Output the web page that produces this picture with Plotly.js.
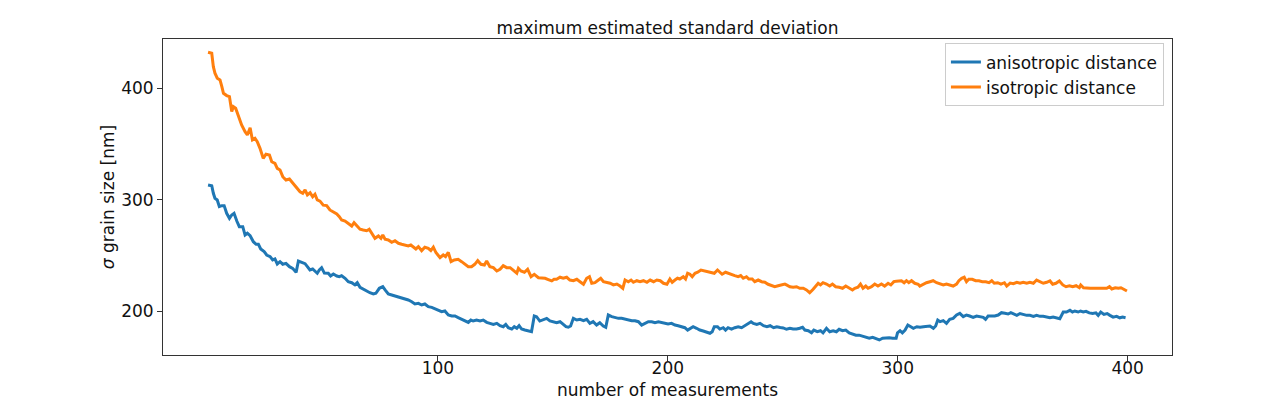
<!DOCTYPE html>
<html>
<head>
<meta charset="utf-8">
<script src="https://cdn.plot.ly/plotly-3.0.1.min.js"></script>
<style>
  html, body { margin: 0; padding: 0; background: #fff; }
  #graph { width: 1271px; height: 400px; }
</style>
</head>
<body>
<div id="graph"></div>
<script>
const anisoX = [0, 1.6, 2.3, 3, 4, 4.9, 6, 7, 8.1, 9.3, 10.3, 11.3, 12.5, 13.6, 15.1, 16.1, 17.1, 18.3, 19.7, 20.9,
  21.9, 22.9, 24.4, 25.5, 27, 28.1, 29.1, 30.1, 31.3, 32.5, 33.9, 35.4, 36.8, 38.3, 39.3, 40.7, 42.2, 43.2, 44.3, 45.5,
  46.5, 47.5, 48.4, 49.4, 50.6, 52.3, 53.3, 54.5, 56, 57.1, 58.1, 59.6, 61, 62.5, 63.9, 64.9, 66.1, 67.5, 69, 70.4,
  71.9, 73, 74.5, 76, 77, 78.4, 79.9, 81.3, 82.8, 84.2, 85.7, 87.1, 88.6, 90, 91.5, 92.9, 94.3, 95.8, 97.3, 98.7,
  100.1, 101.6, 103, 104.5, 106, 107.4, 108.8, 110.3, 111.7, 113.2, 114.3, 115.3, 116.8, 118.3, 119.7, 121.2, 122.6, 124.1, 125.6, 127,
  128.4, 129.5, 130.6, 132.1, 133.2, 134.3, 135.3, 136.4, 137.8, 139.3, 140.7, 141.9, 142.9, 144.3, 145.8, 147.3, 148.7, 150.2, 151.6, 153.1,
  154.5, 155.7, 156.7, 157.7, 158.9, 160.4, 161.8, 163.3, 164.7, 166.1, 167.5, 169, 170.4, 171.9, 173, 174.1, 175.6, 177, 178.5, 179.9,
  181.4, 182.8, 184.3, 185.7, 187.2, 188.6, 190, 191.5, 193, 194.4, 195.9, 197.3, 198.8, 200.1, 201.6, 203.1, 204.5, 206, 207.4, 208.6,
  209.6, 211, 212.5, 213.9, 215.4, 216.8, 218.3, 219.3, 220.2, 221.6, 222.6, 224.1, 225.1, 226.2, 227.7, 229.1, 230.6, 232.1, 233.5, 235,
  236.2, 237.2, 238.7, 240.1, 241.6, 243.1, 244.5, 246, 247.4, 248.9, 250.2, 251.6, 253.1, 254.5, 256, 257.4, 258.6, 259.6, 261.1, 262.5,
  263.5, 265, 266.4, 267.5, 269, 270.4, 271.9, 273.3, 274.5, 276, 277.4, 278.9, 280.3, 281.8, 283.2, 284.7, 286.2, 287.6, 289.1, 290.5,
  292, 293.4, 294.9, 296.3, 297.8, 299.3, 299.9, 301, 302, 303.2, 304.4, 305.4, 306.8, 308.3, 309.7, 311.2, 312.6, 314, 315.5, 316.5,
  317.4, 318.4, 319.8, 321.2, 322.6, 324.1, 325.6, 327, 328.5, 329.9, 331.3, 332.8, 334.3, 335.7, 337.2, 338.2, 339.3, 340.8, 342.2, 343.7,
  345.1, 346.6, 348, 349.2, 350.3, 351.8, 353.2, 354.6, 356.1, 357.5, 359, 360.4, 361.9, 363.3, 364.8, 366.2, 367.6, 369.1, 370.5, 372,
  373.4, 374.9, 376, 377, 378.5, 379.5, 380.7, 381.9, 383.3, 384.8, 386.2, 387.2, 388.3, 389.7, 391.1, 392.3, 393.7, 395.2, 396.6, 397.8,
  399.1];
const anisoSigma = [313.2, 312.5, 305.7, 301.2, 299.7, 293.7, 294.6, 294.6, 287.7, 283.2, 286.2, 287.7, 280.8, 275.7, 275.7, 268.2, 269.8, 267.6, 262.2, 259.9,
  259.9, 255.7, 253.3, 250.3, 248.8, 245.8, 246.7, 242.2, 244.3, 242, 242.8, 239.8, 238.3, 234.7, 244.9, 243.7, 242.5, 239.8, 236.8, 237.7,
  235.3, 233.9, 236.8, 238.9, 234, 233.9, 231.4, 233.2, 231.4, 230.8, 231.7, 229.4, 226.3, 225.4, 223.4, 225.4, 221.3, 219.5, 218.2, 216.4,
  215.3, 215.9, 220.4, 221.8, 218.9, 215.3, 214.4, 213.5, 212.8, 211.4, 210.5, 209.9, 208.3, 206.3, 206.9, 205.4, 206.3, 203.9, 203.3, 201.8,
  200.9, 199.4, 200, 196.4, 195.5, 195.5, 194, 192.8, 191, 189.8, 191.9, 191, 191.9, 191, 191.9, 189.8, 188.9, 188, 188.9, 186.8,
  185.9, 188, 185, 183.8, 185.9, 184.5, 186.8, 183.8, 182.9, 182, 181.4, 195.5, 194.9, 191, 191.9, 193.4, 191.1, 190.1, 189.5, 190.4,
  188.3, 185.9, 185.4, 186.5, 193.4, 191.9, 192.5, 191.3, 192.5, 188.9, 190.4, 187.4, 189.5, 186.5, 185.4, 196.4, 194.9, 194, 193.4, 193.4,
  192.5, 191.9, 191.3, 191.3, 190.4, 187.4, 188.9, 190.4, 190.4, 189.5, 190.4, 189.5, 189.2, 188.4, 188.9, 187.4, 186.8, 185.9, 185, 182.9,
  184.5, 185.9, 184.5, 182.9, 182, 180.9, 180, 181.4, 185.9, 185.9, 183.8, 185, 182.9, 185, 183.8, 185, 185.9, 185, 186.8, 188.9,
  190.4, 188.9, 188, 188.9, 186.8, 185.9, 186.8, 185, 185.9, 185.2, 184.8, 183.6, 184.5, 183.8, 183.8, 184.5, 185.4, 182.9, 182.3, 180.4,
  182.9, 181.4, 182.3, 180.4, 184.5, 181.4, 182.3, 181.4, 183.6, 182.3, 182.9, 180.4, 179.2, 178.3, 178.3, 177.5, 176.9, 175.5, 176.4, 175.5,
  174, 175.5, 176, 176, 175.5, 175.5, 180.4, 182.3, 180.4, 182.9, 187.4, 185.9, 184.5, 185.9, 185.4, 185.9, 185.9, 186.5, 184.5, 186.5,
  191.9, 190.4, 191.3, 188.9, 192.5, 193.4, 196.4, 197.9, 194.9, 196.4, 195.5, 194.3, 195.5, 194.9, 194.3, 192.5, 195.5, 195.5, 195.5, 196.4,
  198.5, 197.9, 197.3, 198.5, 197.7, 196.1, 197.7, 196.8, 196.1, 196.1, 195.2, 196.1, 195.2, 195.2, 194.5, 193.9, 194.5, 193.9, 193, 199.1,
  199.1, 200.6, 199.1, 200, 199.1, 200, 199.1, 199.7, 198.3, 197.7, 198.3, 196.1, 199.1, 196.9, 197.7, 196.1, 194.5, 195.2, 193.9, 194.5,
  193.9];

const isoX = [0, 1.6, 2.3, 3, 4, 5.2, 6, 6.7, 8.1, 9.3, 10.3, 11, 12, 13.2, 14.6, 16.1, 17.1, 18.3, 19.3, 20.4,
  21.4, 22.6, 24, 25.2, 26.7, 27.7, 29.1, 30.1, 31.3, 32.5, 33.9, 35.4, 36.8, 38.6, 40, 41.2, 42.2, 43.2, 44.4, 45.5,
  46.5, 47.5, 48.7, 50.1, 51.6, 53, 54.5, 56, 57.1, 58.1, 59.6, 61, 62.5, 63.5, 64.7, 66.1, 67.5, 69, 70.1, 71.2,
  72.6, 74.1, 75.2, 76, 77, 78.4, 79.9, 81.3, 82.8, 84.2, 85.7, 87.1, 88.2, 89.3, 90.4, 91.5, 92.9, 94.3, 95.8, 96.9,
  98, 99.1, 100.1, 100.9, 102.3, 103.3, 104.5, 105.7, 107.1, 108.8, 110.3, 111.7, 113.2, 114.6, 116, 117.3, 118.7, 120.2, 121.2, 122.6,
  124.1, 125.6, 127, 128.4, 129.9, 131.4, 132.8, 134.3, 135, 136.1, 137.6, 139, 140.5, 141.9, 143.7, 145.1, 146.6, 148, 149.5, 150.5,
  151.6, 153.1, 154.5, 156, 157.4, 158.9, 160.4, 161.8, 163.3, 164.7, 165.9, 166.9, 168.3, 169.8, 170.8, 172, 173.4, 174.9, 176.3, 177.8,
  179.2, 180.4, 181.4, 182.8, 184, 185, 186.5, 187.9, 189.4, 190.9, 192.3, 193.8, 195.2, 196.7, 198.1, 199.6, 200.9, 201.9, 203.1, 204.2,
  205.2, 206.7, 207.7, 208.6, 209.6, 210.6, 211.8, 213, 214.4, 215.9, 217.3, 218.7, 220.2, 221.6, 222.6, 223.6, 225.1, 226.2, 227.7, 229.1,
  230.6, 231.7, 232.8, 234.2, 235.2, 236.7, 237.8, 239.3, 240.8, 242.2, 243.6, 245.1, 246.5, 248, 249.4, 250.9, 251.6, 253.1, 254.5, 256,
  257.4, 258.9, 260.3, 261.7, 263.2, 264.3, 265.4, 266.4, 267.5, 269, 270.4, 271.6, 273, 274.5, 276, 277.4, 278.9, 280.3, 281.3, 282.7,
  283.8, 284.9, 286.1, 287.1, 288.6, 290, 291.4, 292.9, 294.3, 295.8, 297, 298.3, 299.4, 300.9, 301.6, 302.8, 303.8, 304.8, 306, 307.4,
  308.9, 309.6, 311.1, 312.5, 314, 315.4, 316.9, 318.3, 319.8, 321.2, 322.6, 324.1, 325.6, 326.6, 327.8, 328.9, 329.9, 330.9, 332.4, 333.9,
  335.3, 336.8, 338.3, 339.7, 340.9, 342, 343.5, 344.9, 346.4, 347.4, 348.9, 350.3, 351.8, 353.2, 354.6, 356.1, 357.5, 359, 360.4, 361.9,
  363.3, 364.8, 366.2, 367.4, 368.8, 370.3, 371.8, 373.2, 374.7, 376.1, 377.6, 379, 379.6, 380.8, 382.2, 383.7, 385.1, 386.6, 388, 389.5,
  390.9, 392.1, 393.1, 394.6, 396, 397.1, 398.2, 399.7];
const isoSigma = [432.3, 431.4, 419.4, 413.5, 409, 407.5, 401.4, 395.5, 393.4, 392.5, 379, 383.5, 382, 374.5, 367, 361, 358, 364.6, 353.6, 355,
  352, 346, 337, 340.7, 340, 334, 332.6, 328, 326.6, 320.6, 317.6, 318.5, 314.7, 310.7, 307.1, 305.7, 308.7, 304.2, 306.2, 302.6,
  304.8, 299.7, 298.6, 295, 294.6, 290.7, 288.6, 287.1, 284.7, 281.7, 280.8, 278.8, 276.3, 279.3, 276.3, 273.4, 272.7, 272.1, 273.4, 269.8,
  265.3, 267.4, 265.3, 268.3, 264.4, 263.8, 261.7, 263.1, 260.8, 259.9, 259.3, 258.4, 259.3, 257.2, 255.7, 257.8, 254.2, 257.2, 256.3, 254.2,
  257.3, 252.5, 249.4, 248, 250.3, 248.8, 252.7, 244.3, 245.8, 246.4, 244.3, 241.9, 239.8, 239.8, 241.9, 245.2, 241.9, 241.3, 244.9, 239.8,
  238.9, 235.9, 237.4, 240.7, 238.9, 238.9, 236.8, 233.9, 238.3, 235.9, 234.8, 237.4, 230.8, 232.9, 229.9, 229.9, 229.4, 228.2, 227, 228.5,
  228.5, 230.3, 229.4, 230.3, 227.8, 227.2, 228.5, 226.3, 224, 229.4, 230.8, 224.9, 225.4, 227.8, 229.4, 226.3, 225.8, 224.9, 223.4, 224.2,
  222.4, 220.4, 227.8, 226.3, 227.8, 225.8, 227.2, 226.3, 227.2, 225.8, 227.8, 226.3, 227.8, 227.2, 224.9, 224, 228.7, 225.8, 227.8, 229.4,
  228.7, 230.8, 228.7, 233.9, 233, 230.8, 233.9, 234.8, 236.8, 235.9, 235.3, 234.8, 233.9, 236.8, 234.8, 233, 234.8, 233.9, 232.4, 231.8,
  230.8, 231.8, 229.4, 230.8, 228.7, 228.7, 226.3, 227.8, 226.3, 225.8, 224, 222.7, 221.8, 222.7, 223.7, 224.1, 223.4, 221.8, 221.3, 221.8,
  220.4, 220.4, 218.9, 216.4, 219.5, 222.4, 224.9, 223.4, 225.4, 224.2, 222.4, 224.2, 221.8, 221.3, 220.4, 222.4, 220.4, 218.9, 220.4, 221.3,
  224.2, 220.4, 222.4, 220.4, 221.8, 224.2, 222.4, 224.2, 222.4, 224.9, 223.4, 226.3, 226.8, 227.5, 227.2, 225.4, 227.2, 225.4, 227.2, 224.9,
  224, 222.4, 224.2, 225.4, 226.3, 227.2, 225.4, 224.2, 223.4, 224.2, 223.4, 222.4, 224.2, 227.2, 229.4, 230.3, 226.3, 228.5, 228.5, 227.2,
  227.2, 226.3, 226.3, 225.4, 227.2, 224.9, 225.4, 224.2, 225.4, 222.4, 225.1, 224.5, 225.8, 224.9, 225.8, 224.9, 225.8, 224.9, 227.8, 226.3,
  224.9, 225.8, 227, 224, 224.9, 227, 223.4, 221.8, 222.7, 221.8, 222.7, 220.9, 223.4, 220.9, 220.4, 220.4, 220.4, 220.4, 220.4, 220.9,
  220.4, 221.8, 219.8, 220.9, 220.4, 220.9, 219.8, 218];

const seriesNames = ["anisotropic distance", "isotropic distance"];
const xTicks = [100, 200, 300, 400];
const yTicks = [200, 300, 400];

const FONT = "DejaVu Sans, Liberation Sans, sans-serif";

let traces = [
  {
    type: "scatter",
    mode: "lines",
    name: seriesNames[0],
    x: anisoX,
    y: anisoSigma,
    line: { color: "#1f77b4", width: 3 },
  },
  {
    type: "scatter",
    mode: "lines",
    name: seriesNames[1],
    x: isoX,
    y: isoSigma,
    line: { color: "#ff7f0e", width: 3 },
  },
];

let axisStyle = {
  showgrid: false,
  zeroline: false,
  showline: true,
  mirror: true,
  linecolor: "#333",
  linewidth: 1,
  ticks: "outside",
  ticklen: 5,
  tickwidth: 1,
  tickcolor: "#333",
  tickfont: { size: 17, color: "#111", family: FONT },
};

let layout = {
  width: 1271,
  height: 400,
  margin: { l: 163, r: 99, t: 39, b: 45, pad: 0 },
  paper_bgcolor: "#fff",
  plot_bgcolor: "#fff",
  font: { family: FONT, color: "#111", size: 17 },
  title: {
    text: "maximum estimated standard deviation",
    font: { size: 17, color: "#111" },
    x: 0.5,
    xref: "paper",
    y: 0.93,
    yref: "container",
    yanchor: "middle",
  },
  xaxis: Object.assign({}, axisStyle, {
    range: [-19.6, 419.3],
    tickvals: xTicks,
    ticklabelstandoff: -7,
    title: { text: "number of measurements", font: { size: 17, color: "#111" }, standoff: 10 },
  }),
  yaxis: Object.assign({}, axisStyle, {
    range: [160.5, 444.2],
    tickvals: yTicks,
    title: { text: "<i>σ</i> grain size [nm]", font: { size: 17, color: "#111" }, standoff: 2 },
  }),
  showlegend: true,
  legend: {
    x: 0.992,
    xanchor: "right",
    y: 0.986,
    yanchor: "top",
    bgcolor: "rgba(255,255,255,0.8)",
    bordercolor: "#ccc",
    borderwidth: 1,
    font: { size: 17, color: "#111" },
  },
};

Plotly.newPlot("graph", traces, layout, { displayModeBar: false, staticPlot: true });
</script>
</body>
</html>
